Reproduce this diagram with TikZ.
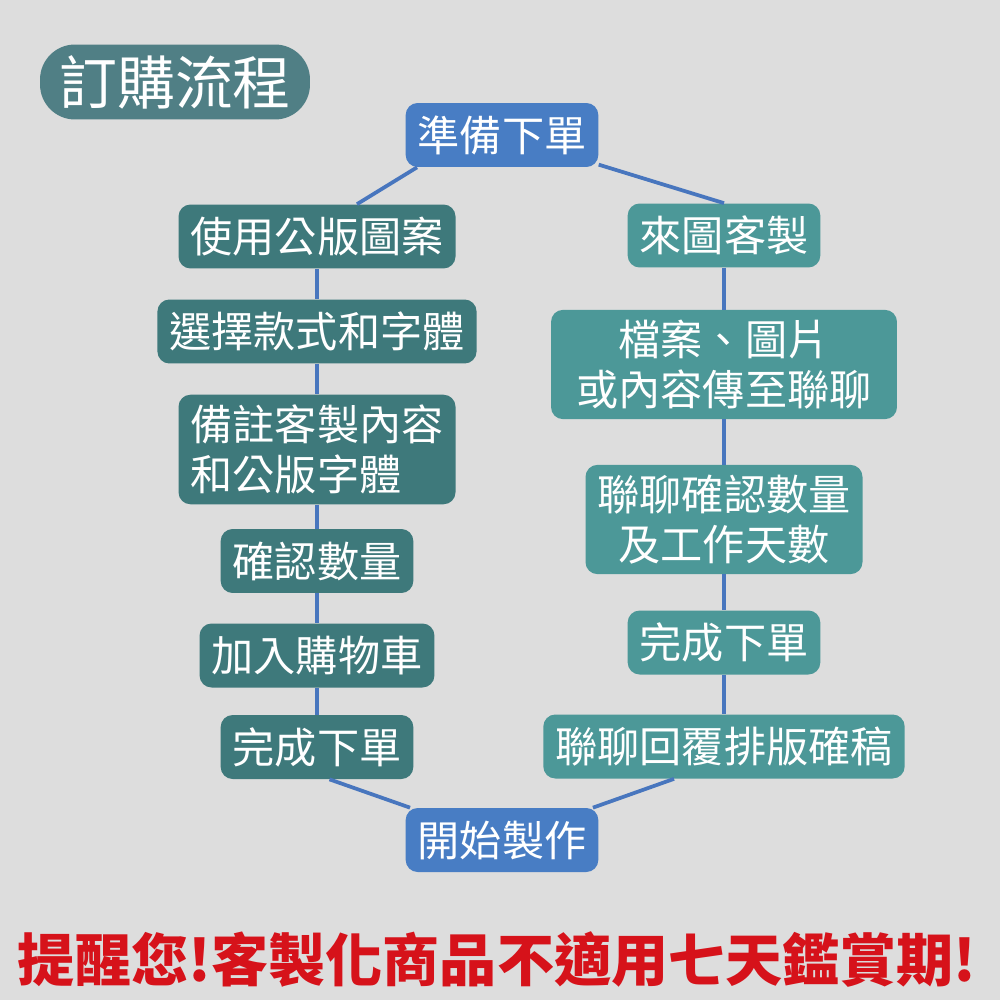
\documentclass[tikz,border=0pt]{standalone}
\usepackage{fontspec}
\newfontfamily\cjk{Noto Sans CJK TC}
\definecolor{stepblue}{RGB}{72,125,196}
\definecolor{tealdark}{RGB}{62,121,123}
\definecolor{teallight}{RGB}{76,152,152}
\definecolor{titleteal}{RGB}{80,127,133}
\definecolor{linkblue}{RGB}{72,118,190}
\definecolor{warnred}{RGB}{214,18,26}
\definecolor{paper}{RGB}{221,221,221}

\begin{document}
\begin{tikzpicture}[x=0.02cm, y=-0.02cm,
	box/.style={rounded corners=0.24cm, text=white, font=\cjk\fontsize{24}{28.5}\selectfont, inner xsep=0.24cm, inner ysep=0.2cm, minimum height=1.28cm},
	leftbox/.style={box, fill=tealdark},
	rightbox/.style={box, fill=teallight},
	endbox/.style={box, fill=stepblue},
	link/.style={draw=linkblue, line width=0.075cm}]
			%%%%% START %%%%%
			
			\useasboundingbox (0, 0) rectangle (1000, 1000);
			\fill[paper] (0, 0) rectangle (1000, 1000);
			
			\node[fill=titleteal, rounded corners=0.7cm, text=white, font=\cjk\fontsize{33}{33}\selectfont, minimum width=5.4cm, minimum height=1.5cm] (title) at (175, 82) {訂購流程};
			
			\node[endbox] (prep) at (502, 135) {準備下單};
			
			\node[leftbox] (lpub) at (317, 236.5) {使用公版圖案};
			\node[leftbox] (lsel) at (317, 331.5) {選擇款式和字體};
			\node[leftbox, align=left] (lnote) at (317, 449.5) {備註客製內容\\和公版字體};
			\node[leftbox] (lqty) at (317, 561) {確認數量};
			\node[leftbox] (lcart) at (317, 655.5) {加入購物車};
			\node[leftbox] (lfin) at (317, 747) {完成下單};
			
			\node[rightbox] (rcust) at (724, 235.5) {來圖客製};
			\node[rightbox, align=center, minimum width=6.92cm] (rfile) at (724, 364.5) {檔案、圖片\\或內容傳至聯聊};
			\node[rightbox, align=center] (rconf) at (724, 519.5) {聯聊確認數量\\及工作天數};
			\node[rightbox] (rfin) at (724, 642.5) {完成下單};
			\node[rightbox] (rreply) at (724, 746.5) {聯聊回覆排版確稿};
			
			\node[endbox] (start) at (502, 840) {開始製作};
			
			\draw[link] ([xshift=-1.7cm]prep.south) -- ([xshift=0.8cm]lpub.north);
			\draw[link] (prep) -- (rcust.north);
			\foreach \a/\b in {lpub/lsel, lsel/lnote, lnote/lqty, lqty/lcart, lcart/lfin, rcust/rfile, rfile/rconf, rconf/rfin, rfin/rreply}
				\draw[link] (\a) -- (\b);
			\draw[link] ([xshift=0.25cm]lfin.south) -- (start);
			\draw[link] ([xshift=-1cm]rreply.south) -- (start);
			
			\node[text=warnred, font=\cjk\bfseries\fontsize{32.5}{32.5}\selectfont] (warn) at (497, 960) {提醒您!客製化商品不適用七天鑑賞期!};
			
			%%%%% END %%%%%
\end{tikzpicture}
\end{document}
